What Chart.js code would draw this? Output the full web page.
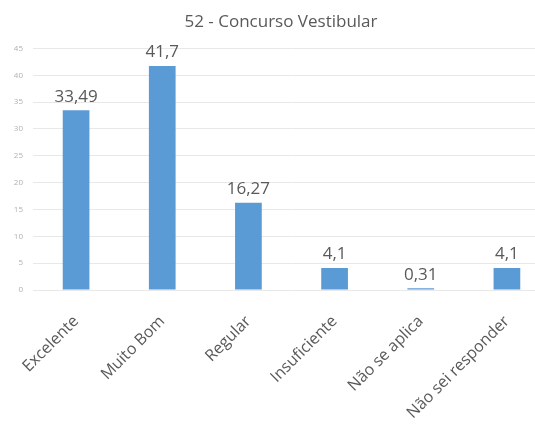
<!DOCTYPE html>
<html>
<head>
<meta charset="utf-8">
<script src="https://cdn.jsdelivr.net/npm/chart.js@4"></script>
<style>
  html, body { margin: 0; padding: 0; background: #fff; overflow: hidden; }
  #wrap { width: 550px; height: 425px; }
</style>
</head>
<body>
<div id="wrap"><canvas id="graficoVestibular"></canvas></div>
<script>
// --- DADOS ---
var categorias = ['Excelente', 'Muito Bom', 'Regular', 'Insuficiente', 'Não se aplica', 'Não sei responder'];
var valores = [33.49, 41.7, 16.27, 4.1, 0.31, 4.1];
var ticksY = [0, 5, 10, 15, 20, 25, 30, 35, 40, 45];

var corTexto = '#595959';
var fonte = "'Open Sans', 'Liberation Sans', sans-serif";

// rótulos acima das barras
var rotulosBarras = {
    id: 'rotulosBarras',
    afterDatasetsDraw: function (chart) {
        var ctx = chart.ctx;
        var meta = chart.getDatasetMeta(0);
        ctx.save();
        ctx.fillStyle = corTexto;
        ctx.font = '17px ' + fonte;
        ctx.textAlign = 'center';
        ctx.textBaseline = 'bottom';
        meta.data.forEach(function (barra, i) {
            var txt = String(valores[i]).replace('.', ',');
            ctx.fillText(txt, barra.x, barra.y - 5);
        });
        ctx.restore();
    }
};

var ctx = document.getElementById('graficoVestibular').getContext('2d');
var chart = new Chart(ctx, {
    type: 'bar',
    data: {
        labels: categorias,
        datasets: [{
            data: valores,
            backgroundColor: '#5B9BD5',
            borderWidth: 0,
            barPercentage: 0.31,
            categoryPercentage: 1
        }]
    },
    options: {
        responsive: true,
        maintainAspectRatio: false,
        animation: false,
        layout: { padding: { left: 12, right: 0, top: 0, bottom: 0 } },
        plugins: {
            legend: { display: false },
            tooltip: { enabled: false },
            title: {
                display: true,
                text: '52 - Concurso Vestibular',
                color: corTexto,
                font: { family: fonte, size: 17, weight: 'normal' },
                padding: { top: 12, bottom: 16 }
            }
        },
        scales: {
            x: {
                grid: { display: false },
                border: { display: false },
                ticks: {
                    color: corTexto,
                    font: { family: fonte, size: 16 },
                    minRotation: 45,
                    maxRotation: 45,
                    padding: 14
                },
                afterFit: function (scale) { scale.height = 135; }
            },
            y: {
                min: 0,
                max: 45,
                afterBuildTicks: function (scale) {
                    scale.ticks = ticksY.map(function (v) { return { value: v }; });
                },
                grid: { color: '#e8e8e8', drawTicks: false },
                border: { display: false },
                ticks: {
                    color: '#b0b0b0',
                    font: { family: fonte, size: 8 },
                    padding: 10
                },
                afterFit: function (scale) { scale.width = 21; }
            }
        }
    },
    plugins: [rotulosBarras]
});
</script>
</body>
</html>
